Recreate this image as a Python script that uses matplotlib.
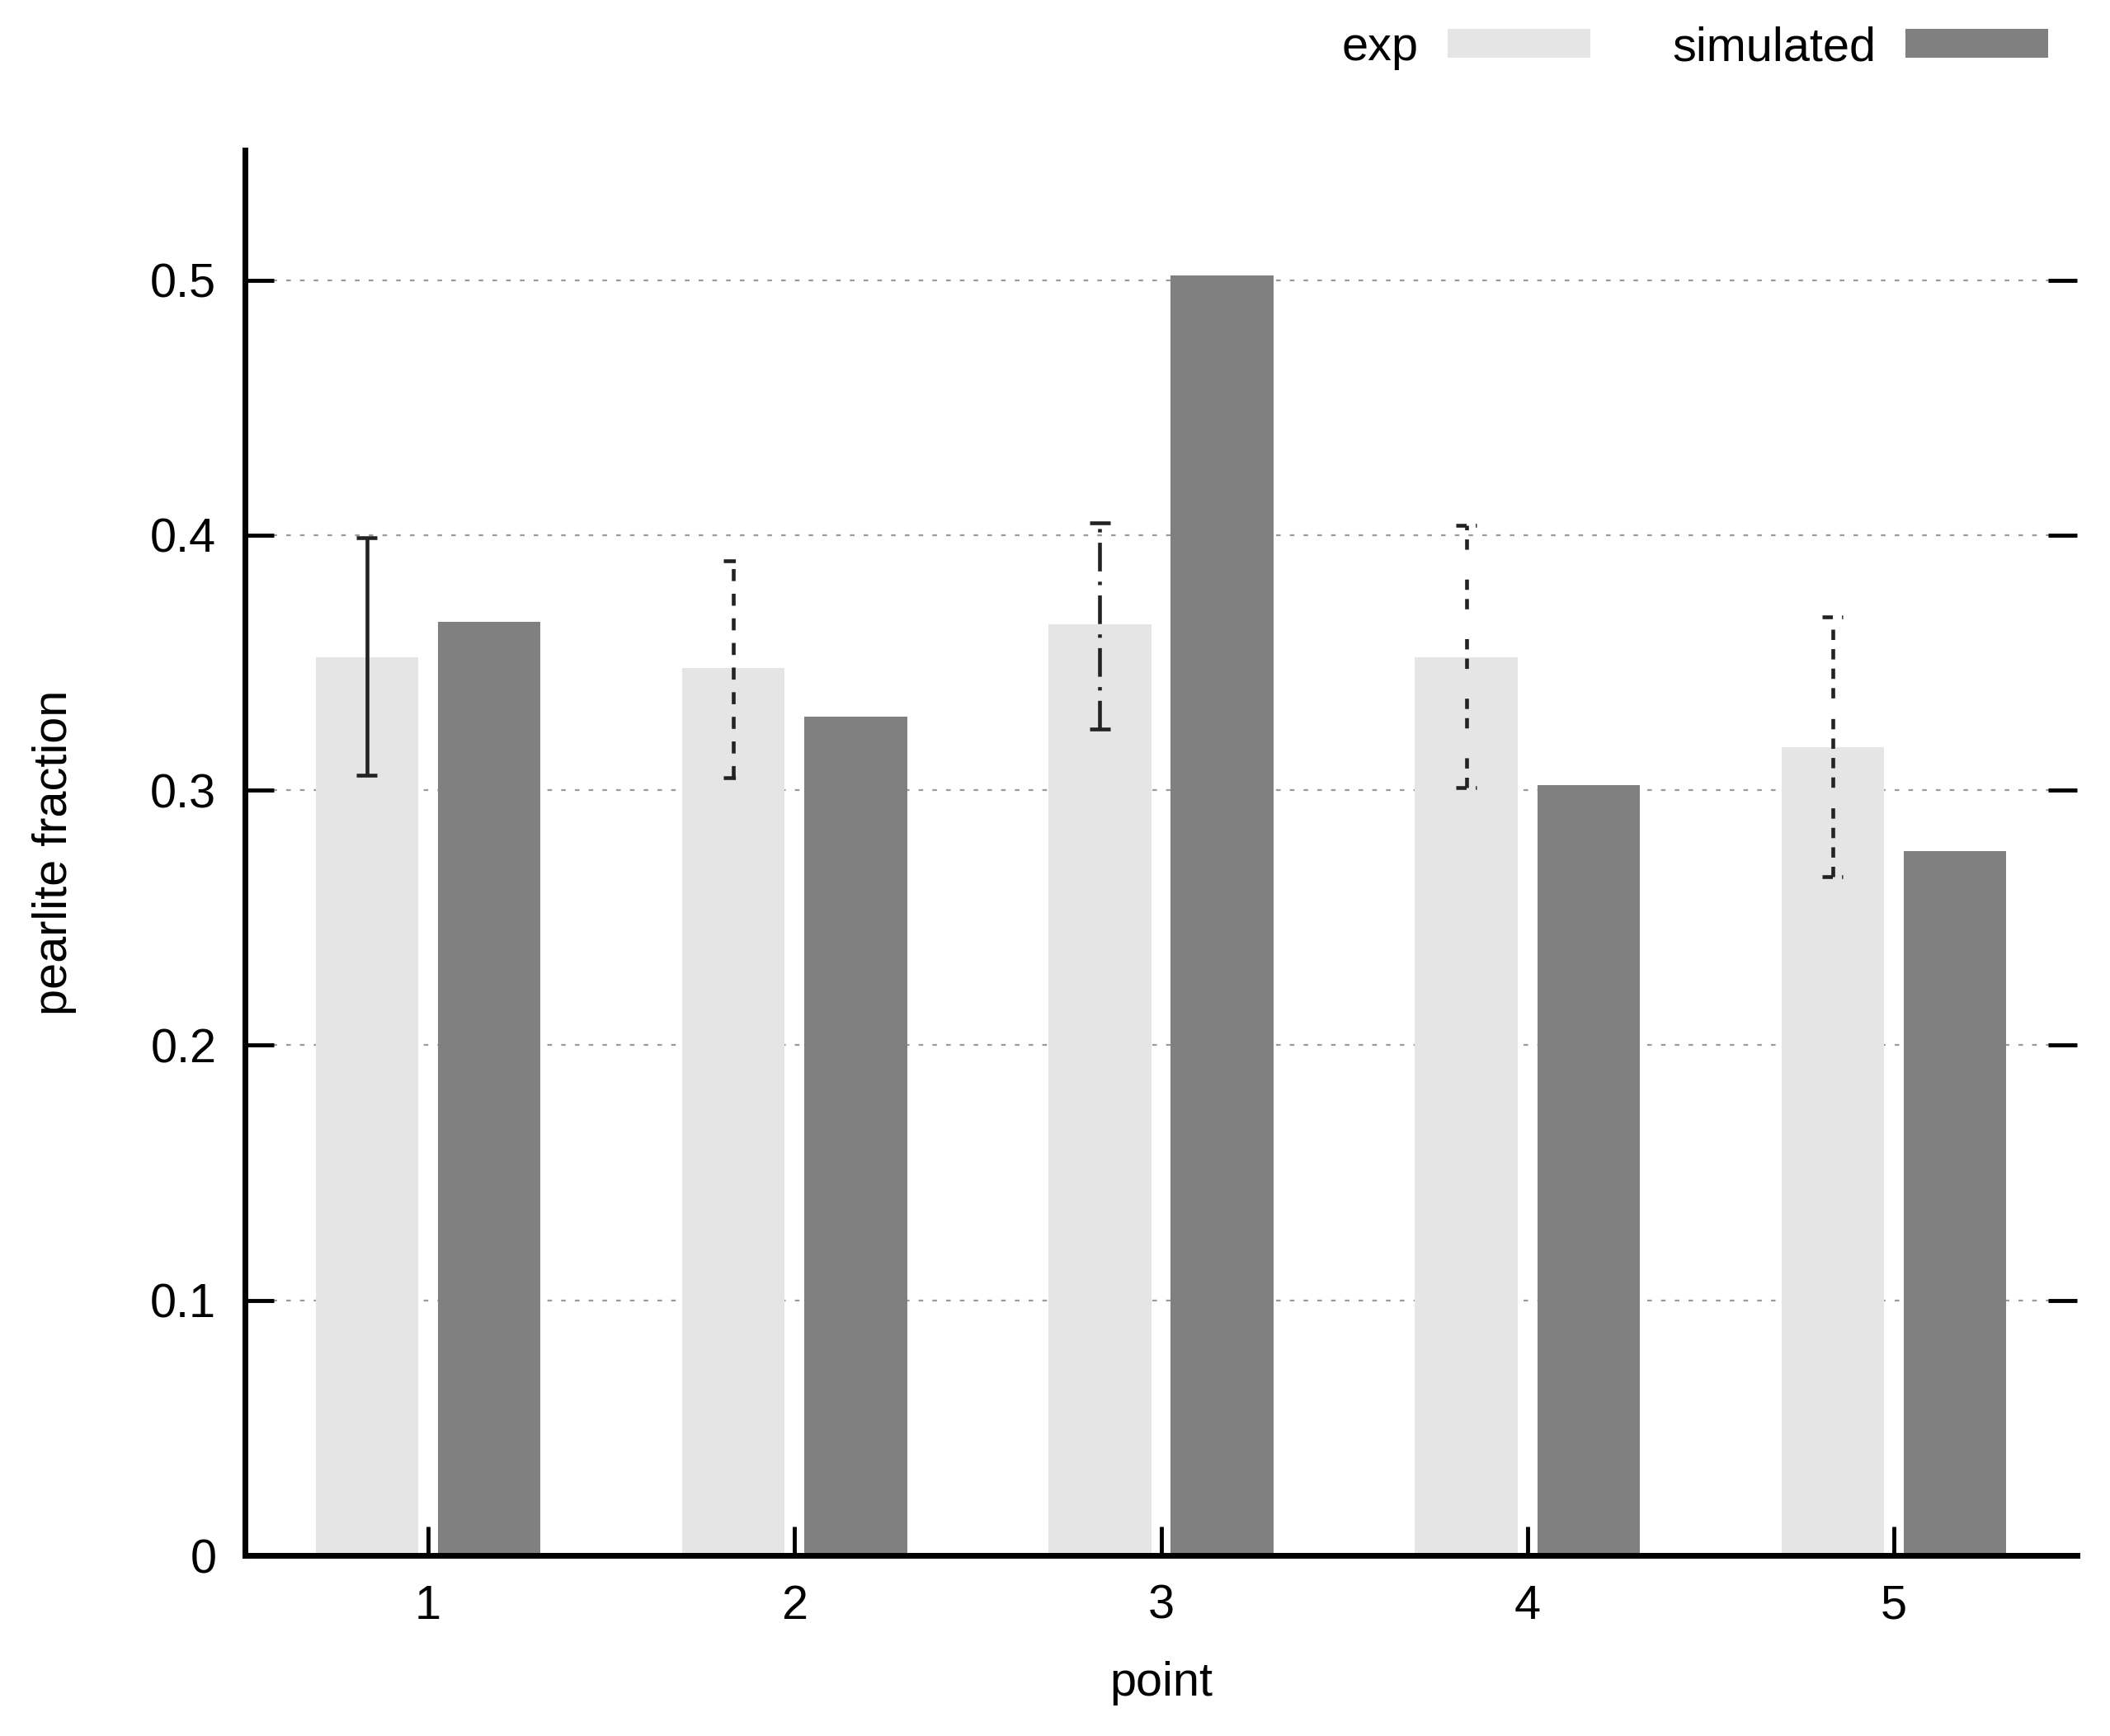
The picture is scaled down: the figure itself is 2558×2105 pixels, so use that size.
import numpy as np
import matplotlib.pyplot as plt

plt.rcParams['font.family'] = ['Liberation Sans', 'DejaVu Sans']
plt.rcParams['lines.scale_dashes'] = False

# данные
points = [1, 2, 3, 4, 5]
exp_vals = [0.352, 0.348, 0.365, 0.352, 0.317]
sim_vals = [0.366, 0.329, 0.502, 0.302, 0.276]
err_low = [0.306, 0.305, 0.324, 0.301, 0.266]
err_high = [0.399, 0.390, 0.405, 0.404, 0.368]

# стили линий для погрешностей (как в gnuplot), в пунктах
err_styles = [
    (0, ()),
    (0, (10.5, 11)),
    (0, (25, 9, 3, 9)),
    (0, (9, 8, 9, 26)),
    (0, (9, 8, 9, 8, 9, 8, 9, 18)),
]

fs = 41.5

fig = plt.figure(figsize=(25.58, 21.05), dpi=100)
ax = fig.add_axes([297 / 2558, 1 - 1886 / 2105, (2518 - 297) / 2558, (1886 - 182) / 2105])

x = np.array(points, dtype=float)
off = 0.167
w = 0.28
b1 = ax.bar(x - off, exp_vals, width=w, color='#e5e5e5', linewidth=0, label='exp', zorder=2)
b2 = ax.bar(x + off, sim_vals, width=w, color='#808080', linewidth=0, label='simulated', zorder=2)

cap = 0.028
for i in range(len(points)):
    xc = x[i] - off
    ls = err_styles[i]
    ax.plot([xc, xc], [err_low[i], err_high[i]], color='#222222', lw=3.3, linestyle=ls, zorder=3)
    for yv in (err_low[i], err_high[i]):
        ax.plot([xc - cap, xc + cap], [yv, yv], color='#222222', lw=3.3, linestyle=ls, zorder=3)

ax.set_xlim(0.5, 5.5)
ax.set_ylim(0, 0.551)
ax.set_xticks(points)
ax.set_xticklabels([str(p) for p in points])
ax.set_yticks([0, 0.1, 0.2, 0.3, 0.4, 0.5])
ax.set_yticklabels(['0', '0.1', '0.2', '0.3', '0.4', '0.5'])

ax.yaxis.grid(True, color='#9a9a9a', linewidth=1.6, linestyle=(0, (4, 8)))
ax.set_axisbelow(True)

for s in ['top', 'right']:
    ax.spines[s].set_visible(False)
for s in ['left', 'bottom']:
    ax.spines[s].set_linewidth(5)
    ax.spines[s].set_zorder(5)

ax.tick_params(axis='both', direction='in', length=25, width=3.5, labelsize=fs, pad=25)
ax.tick_params(axis='y', right=True)
for t in ax.yaxis.get_major_ticks():
    t.tick2line.set_zorder(6)

ax.set_xlabel('point', fontsize=fs, labelpad=28)
ax.set_ylabel('pearlite fraction', fontsize=fs, labelpad=64)

ax.legend(handles=[b1, b2], loc='center right', bbox_to_anchor=(2483 / 2558, 1 - 58 / 2105),
          bbox_transform=fig.transFigure, ncol=2, frameon=False, markerfirst=False,
          fontsize=fs, handlelength=3.0, handleheight=0.56, handletextpad=0.62,
          columnspacing=1.72, borderpad=0, borderaxespad=0)

plt.savefig('out.png', dpi=100)
